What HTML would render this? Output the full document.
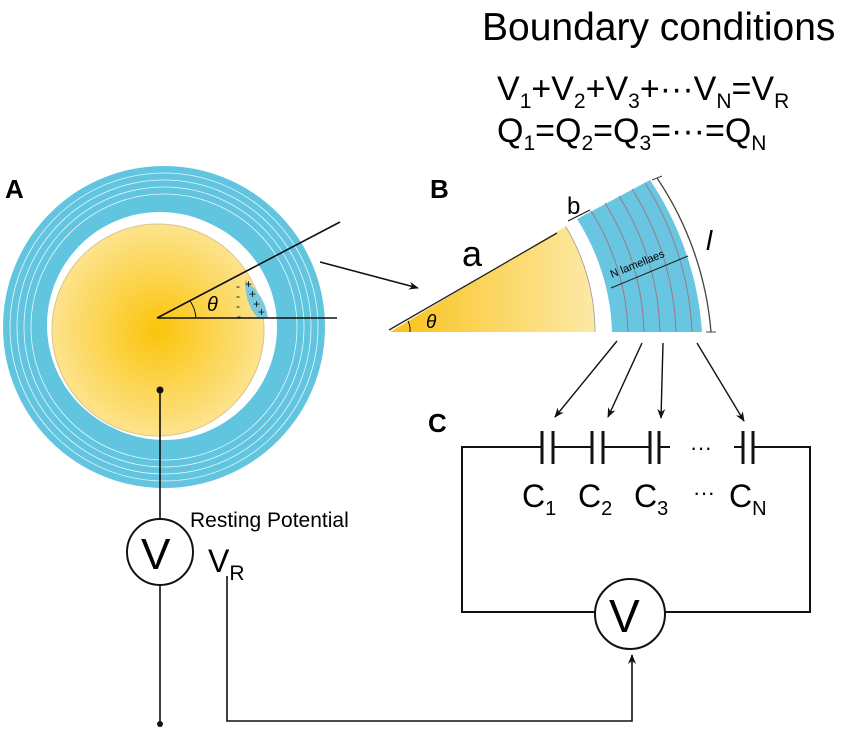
<!DOCTYPE html>
<html><head><meta charset="utf-8"><style>body{margin:0;background:#fff}svg{display:block}text{font-family:"Liberation Sans",sans-serif}</style></head>
<body>
<svg width="850" height="729" viewBox="0 0 850 729" xmlns="http://www.w3.org/2000/svg">
<defs>
<radialGradient id="yg" cx="0.5" cy="0.5" r="0.55"><stop offset="0" stop-color="#fbc40a"/><stop offset="1" stop-color="#fde69a"/></radialGradient>
<linearGradient id="yl" x1="0" y1="0" x2="1" y2="0"><stop offset="0" stop-color="#f9c21a"/><stop offset="1" stop-color="#fde9a6"/></linearGradient>
<marker id="ar" markerWidth="10" markerHeight="10" refX="9" refY="5" orient="auto" markerUnits="userSpaceOnUse"><path d="M0,1 L10,5 L0,9 L3,5z" fill="#111"/></marker>
</defs>
<text x="482" y="40" font-size="39">Boundary conditions</text>
<text x="497" y="100" font-size="34">V<tspan font-size="21" dy="8">1</tspan><tspan dy="-8">+V</tspan><tspan font-size="21" dy="8">2</tspan><tspan dy="-8">+V</tspan><tspan font-size="21" dy="8">3</tspan><tspan dy="-8">+···V</tspan><tspan font-size="21" dy="8">N</tspan><tspan dy="-8">=V</tspan><tspan font-size="21" dy="8">R</tspan></text>
<text x="497" y="142" font-size="34">Q<tspan font-size="21" dy="8">1</tspan><tspan dy="-8">=Q</tspan><tspan font-size="21" dy="8">2</tspan><tspan dy="-8">=Q</tspan><tspan font-size="21" dy="8">3</tspan><tspan dy="-8">=···=Q</tspan><tspan font-size="21" dy="8">N</tspan></text>
<text x="5" y="198" font-size="26" font-weight="bold">A</text>
<text x="430" y="198" font-size="26" font-weight="bold">B</text>
<text x="428" y="432" font-size="26" font-weight="bold">C</text>
<!-- A -->
<circle cx="164" cy="327" r="137" fill="none" stroke="#62c5e0" stroke-width="48"/>
<g fill="none" stroke="#e8f6fa" stroke-width="0.8">
<circle cx="164" cy="327" r="133"/><circle cx="164" cy="327" r="140"/><circle cx="164" cy="327" r="147"/><circle cx="164" cy="327" r="154"/></g>
<circle cx="160" cy="325" r="113" fill="#fff"/>
<circle cx="158" cy="330" r="106" fill="url(#yg)" stroke="#d8c488" stroke-width="1"/>
<path d="M245 280 Q265 295 268 318 L258 318 Q245 305 245 280z" fill="#7bcbe0"/>
<g font-size="12" fill="#111"><text x="236" y="290">-</text><text x="236" y="300">-</text><text x="236" y="310">-</text><text x="237" y="320">-</text><text x="245" y="288">+</text><text x="249" y="298">+</text><text x="253" y="308">+</text><text x="258" y="316">+</text></g>
<path d="M157 318 L340 222 M157 318 L337 318" stroke="#111" stroke-width="1.6" fill="none"/>
<path d="M190 301 A34 34 0 0 1 196 318" stroke="#111" fill="none"/>
<text x="207" y="311" font-size="20" font-style="italic" font-family="Liberation Serif">θ</text>
<line x1="320" y1="262" x2="418" y2="288" stroke="#111" stroke-width="1.6" marker-end="url(#ar)"/>
<!-- B -->
<path d="M390 332 L595 332 A205 205 0 0 0 565.7 226.4 Z" fill="url(#yl)"/>
<path d="M595 332 A205 205 0 0 0 565.7 226.4" fill="none" stroke="#999" stroke-width="0.8"/>
<path d="M612 332 L702 332 A312 312 0 0 0 650 180 L577 219 A222 222 0 0 1 612 332Z" fill="#69c6e1"/>
<g fill="none" stroke="#9a7a8a" stroke-width="1">
<path d="M628 332 A238 238 0 0 0 591 211"/><path d="M644 332 A254 254 0 0 0 605 203"/><path d="M660 332 A270 270 0 0 0 619 196"/><path d="M676 332 A286 286 0 0 0 632 189"/><path d="M692 332 A302 302 0 0 0 645 183"/></g>
<line x1="389" y1="330" x2="557" y2="233" stroke="#222" stroke-width="1.3"/>
<path d="M410 332 A20 20 0 0 0 408 321" fill="none" stroke="#111"/>
<text x="426" y="328" font-size="19" font-style="italic" font-family="Liberation Serif">θ</text>
<text x="462" y="266" font-size="36">a</text>
<text x="567" y="214" font-size="24">b</text>
<line x1="568" y1="221" x2="590" y2="210" stroke="#111"/>
<line x1="611" y1="288" x2="688" y2="256" stroke="#222"/>
<text x="612" y="278" font-size="11" transform="rotate(-22 612 278)">N lamellaes</text>
<path d="M711 332 A322 322 0 0 0 657 178" fill="none" stroke="#444" stroke-width="1.3"/>
<path d="M706 332 H716 M652 180 L662 176" stroke="#444"/>
<text x="706" y="250" font-size="28" font-style="italic" font-family="Liberation Serif">l</text>
<!-- arrows to caps -->
<g stroke="#111" stroke-width="1.4" marker-end="url(#ar)">
<line x1="617" y1="341" x2="555" y2="417"/><line x1="642" y1="343" x2="608" y2="417"/><line x1="663" y1="343" x2="661" y2="418"/><line x1="697" y1="343" x2="744" y2="421"/></g>
<!-- circuit -->
<g stroke="#111" stroke-width="2" fill="none">
<path d="M542 447 H462 V612 H595 M665 612 H810 V447 H753"/>
<path d="M553 447 H592 M603 447 H650 M659 447 H670 M734 447 H743"/>
<g stroke-width="3"><path d="M542 431 V464 M553 431 V464 M592 431 V464 M603 431 V464 M650 431 V464 M659 431 V464 M743 431 V464 M753 431 V464"/></g>
<circle cx="630" cy="614" r="35"/>
<circle cx="160" cy="552" r="33"/>
</g>
<text x="690" y="455" font-size="22">···</text>
<g font-size="32"><text x="522" y="507">C<tspan font-size="20" dy="8">1</tspan></text><text x="578" y="507">C<tspan font-size="20" dy="8">2</tspan></text><text x="634" y="507">C<tspan font-size="20" dy="8">3</tspan></text><text x="693" y="500" font-size="22">···</text><text x="729" y="507">C<tspan font-size="20" dy="8">N</tspan></text></g>
<text x="609" y="632" font-size="46">V</text>
<text x="141" y="569" font-size="44">V</text>
<text x="190" y="527" font-size="21">Resting Potential</text>
<text x="208" y="572" font-size="32">V<tspan font-size="21" dy="8">R</tspan></text>
<g stroke="#111" stroke-width="1.6" fill="none">
<path d="M160 390 V519 M160 585 V724"/>
<path d="M227 576 V721 H632 V655" marker-end="url(#ar)"/>
</g>
<circle cx="160" cy="390" r="3.5" fill="#111"/><circle cx="160" cy="724" r="3" fill="#111"/>
</svg>
</body></html>
